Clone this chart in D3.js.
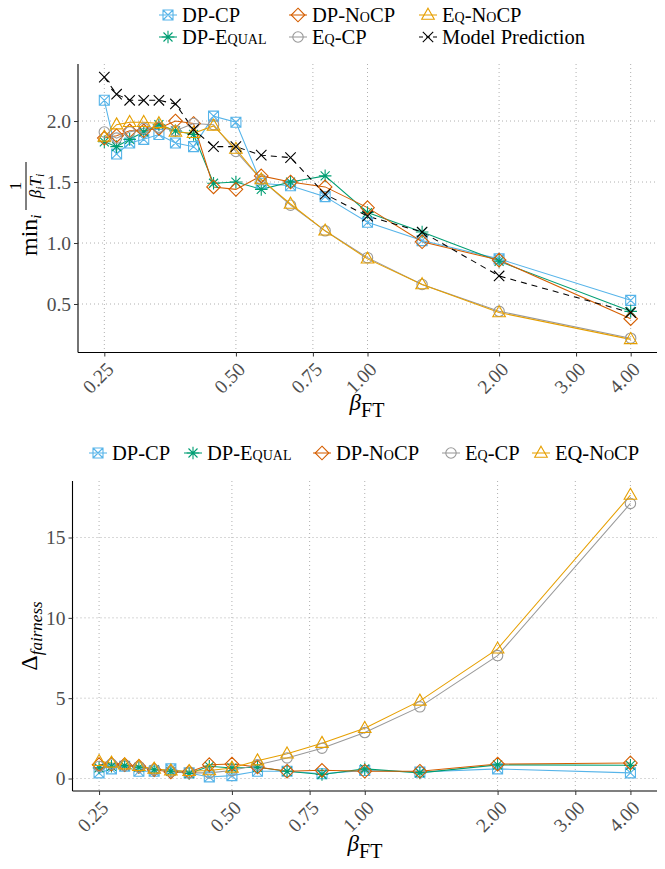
<!DOCTYPE html>
<html><head><meta charset="utf-8">
<script src="https://cdn.jsdelivr.net/npm/d3@7"></script>
<style>
body{margin:0;background:#fff;}
svg, svg text, svg tspan{font-family:'Liberation Serif','Times New Roman','DejaVu Serif',serif !important;}
.sc{font-variant:small-caps;}
</style></head><body>
<svg id="c" width="665" height="869" font-family="'Liberation Serif', 'Times New Roman', serif"></svg>
<script>
// ---------- data ----------
const betaFT = [0.25, 0.2667, 0.2857, 0.3077, 0.3333, 0.3636, 0.4, 0.4444, 0.5, 0.5714, 0.6667, 0.8, 1.0, 1.3333, 2.0, 4.0];
const xTicks = [0.25, 0.5, 0.75, 1, 2, 3, 4];
const xTickLabels = ["0.25", "0.50", "0.75", "1.00", "2.00", "3.00", "4.00"];
const topYTicks = [0.5, 1.0, 1.5, 2.0];
const topYTickLabels = ["0.5", "1.0", "1.5", "2.0"];
const botYTicks = [0, 5, 10, 15];
const botYTickLabels = ["0", "5", "10", "15"];

// top panel: min_i 1/(beta_i T_i)
const topDPCP    = [2.17, 1.73, 1.82, 1.85, 1.89, 1.82, 1.79, 2.04, 1.99, 1.49, 1.47, 1.38, 1.17, 1.02, 0.87, 0.53];
const topDPEqual = [1.83, 1.79, 1.85, 1.91, 1.97, 1.92, 1.89, 1.49, 1.50, 1.44, 1.50, 1.55, 1.25, 1.09, 0.85, 0.44];
const topDPNoCP  = [1.86, 1.88, 1.92, 1.92, 1.94, 2.00, 1.98, 1.46, 1.44, 1.55, 1.50, 1.46, 1.29, 1.01, 0.86, 0.38];
const topEqCP    = [1.91, 1.86, 1.91, 1.94, 1.95, 1.92, 1.98, 1.97, 1.75, 1.52, 1.31, 1.10, 0.88, 0.66, 0.44, 0.22];
const topEqNoCP  = [1.87, 1.97, 1.99, 1.99, 1.98, 1.91, 1.90, 1.96, 1.77, 1.52, 1.32, 1.10, 0.87, 0.66, 0.43, 0.21];
const topModel   = [2.36, 2.22, 2.17, 2.17, 2.17, 2.14, 1.93, 1.79, 1.79, 1.72, 1.70, 1.40, 1.22, 1.09, 0.73, 0.43];

// bottom panel: Delta_fairness
const botDPCP    = [0.35, 0.60, 0.76, 0.45, 0.45, 0.60, 0.35, 0.10, 0.18, 0.45, 0.45, 0.30, 0.50, 0.40, 0.60, 0.35];
const botDPEqual = [0.66, 0.76, 0.80, 0.70, 0.55, 0.45, 0.31, 0.76, 0.66, 0.70, 0.45, 0.25, 0.60, 0.35, 0.85, 0.82];
const botDPNoCP  = [0.86, 0.90, 0.86, 0.76, 0.55, 0.41, 0.41, 0.86, 0.90, 0.72, 0.45, 0.51, 0.45, 0.45, 0.90, 0.97];
const botEqCP    = [0.75, 0.90, 0.80, 0.70, 0.55, 0.45, 0.35, 0.35, 0.50, 0.85, 1.28, 1.89, 2.86, 4.46, 7.65, 17.12];
const botEqNoCP  = [1.07, 0.97, 0.86, 0.76, 0.60, 0.49, 0.45, 0.50, 0.66, 1.11, 1.54, 2.20, 3.13, 4.83, 8.07, 17.64];

const topLabels = ["DP-CP", "DP-E{qual}", "DP-N{o}CP", "E{q}-CP", "E{q}-N{o}CP", "Model Prediction"];
const botLabels = ["DP-CP", "DP-E{qual}", "DP-N{o}CP", "E{q}-CP", "EQ-N{o}CP"];
const colors = ["#56B4E9", "#009E73", "#D55E00", "#999999", "#E69F00", "#000000"];
const shapes = ["squareX", "star", "diamond", "circle", "triangle", "x"];

// ---------- helpers ----------
const FONT = "'Liberation Serif', 'Times New Roman', serif";
const svg = d3.select("#c");
const tickCol = "#4D4D4D";

function shapePath(t) {
  switch (t) {
    case "squareX": return "M-5,-5H5V5H-5Z M-5,-5L5,5 M5,-5L-5,5";
    case "star": return "M0,-6.3V6.3 M-6.3,0H6.3 M-4.5,-4.5L4.5,4.5 M4.5,-4.5L-4.5,4.5";
    case "diamond": return "M0,-6.8L6.8,0L0,6.8L-6.8,0Z";
    case "circle": return "M5.2,0A5.2,5.2 0 1,1 -5.2,0A5.2,5.2 0 1,1 5.2,0Z";
    case "triangle": return "M0,-6.8L6.3,4.2L-6.3,4.2Z";
    case "x": return "M-5.2,-5.2L5.2,5.2M5.2,-5.2L-5.2,5.2";
  }
}

function richText(sel, label) {
  const parts = label.split(/(\{[^}]*\})/).filter(s => s.length);
  parts.forEach(p => {
    if (p[0] === "{") sel.append("tspan").attr("class", "sc").attr("font-variant", "small-caps").text(p.slice(1, -1));
    else sel.append("tspan").text(p);
  });
}

function expand(lo, hi) { const d = (hi - lo) * 0.05; return [lo - d, hi + d]; }

function panel(opts) {
  const {left, right, top, bottom, series, yTicks, yTickLabels} = opts;
  const allY = series.flatMap(s => s.values);
  const x = d3.scaleLog().base(2)
    .domain([0.25 / Math.pow(2, 0.2), 4 * Math.pow(2, 0.2)])
    .range([left, right]);
  const y = d3.scaleLinear().domain(expand(d3.min(allY), d3.max(allY))).range([bottom, top]);
  const g = svg.append("g");

  // grid
  const grid = g.append("g").attr("stroke", "#b0b0b0").attr("stroke-width", 1).attr("stroke-dasharray", "1,3");
  xTicks.forEach(t => grid.append("line").attr("x1", x(t)).attr("x2", x(t)).attr("y1", top).attr("y2", bottom));
  yTicks.forEach(t => grid.append("line").attr("x1", left).attr("x2", right).attr("y1", y(t)).attr("y2", y(t)));

  // axes via d3
  const xAxis = d3.axisBottom(x).tickValues(xTicks).tickFormat((d, i) => xTickLabels[i]).tickSize(4).tickSizeOuter(0);
  const xa = g.append("g").attr("transform", `translate(0,${bottom})`).call(xAxis).attr("font-family", FONT);
  xa.select(".domain").attr("stroke", "#000").attr("stroke-width", 1.1).attr("d", `M${left},0H${right}`);
  xa.selectAll(".tick line").attr("stroke", "#333");
  xa.selectAll(".tick text")
    .attr("font-family", FONT).attr("font-size", 19.5).attr("fill", tickCol)
    .attr("text-anchor", "end").attr("dy", null).attr("y", null)
    .attr("transform", "translate(10,18) rotate(-45)");

  const yAxis = d3.axisLeft(y).tickValues(yTicks).tickFormat((d, i) => yTickLabels[i]).tickSize(4).tickSizeOuter(0);
  const ya = g.append("g").attr("transform", `translate(${left},0)`).call(yAxis).attr("font-family", FONT);
  ya.select(".domain").attr("stroke", "#000").attr("stroke-width", 1.1).attr("d", `M0,${top}V${bottom}`);
  ya.selectAll(".tick line").attr("stroke", "#333");
  ya.selectAll(".tick text")
    .attr("font-family", FONT).attr("font-size", 19.5).attr("fill", tickCol)
    .attr("x", -7);

  // lines
  const line = d3.line().x((d, i) => x(betaFT[i])).y(d => y(d));
  series.forEach(s => {
    g.append("path").attr("d", line(s.values)).attr("fill", "none")
      .attr("stroke", s.color).attr("stroke-width", 1.05)
      .attr("stroke-dasharray", s.dashed ? "6,5" : null);
  });
  // points
  series.forEach(s => {
    g.append("g").selectAll("path").data(s.values).join("path")
      .attr("d", shapePath(s.shape))
      .attr("transform", (d, i) => `translate(${x(betaFT[i])},${y(d)})`)
      .attr("fill", "none").attr("stroke", s.color).attr("stroke-width", 1.1);
  });
  return {x, y};
}

function legendKey(g, s, cx, cy) {
  g.append("line").attr("x1", cx - 9).attr("x2", cx + 9).attr("y1", cy).attr("y2", cy)
    .attr("stroke", s.color).attr("stroke-width", 1.05).attr("stroke-dasharray", s.dashed ? "4,3" : null);
  g.append("path").attr("d", shapePath(s.shape)).attr("transform", `translate(${cx},${cy})`)
    .attr("fill", "none").attr("stroke", s.color).attr("stroke-width", 1.1);
}

function legendItem(s, label, cx, cy) {
  const g = svg.append("g");
  legendKey(g, s, cx, cy);
  const t = g.append("text").attr("x", cx + 14).attr("y", cy).attr("dy", "0.34em")
    .attr("font-family", FONT).attr("font-size", 20.5).attr("fill", "#000");
  richText(t, label);
}

// ---------- series ----------
const topValues = [topDPCP, topDPEqual, topDPNoCP, topEqCP, topEqNoCP, topModel];
const botValues = [botDPCP, botDPEqual, botDPNoCP, botEqCP, botEqNoCP];
const topSeries = topValues.map((v, i) => ({values: v, color: colors[i], shape: shapes[i], dashed: i === 5}));
const botSeries = botValues.map((v, i) => ({values: v, color: colors[i], shape: shapes[i], dashed: false}));

panel({left: 78, right: 657, top: 64, bottom: 352.5, series: topSeries, yTicks: topYTicks, yTickLabels: topYTickLabels});
panel({left: 72.5, right: 657, top: 481, bottom: 791, series: botSeries, yTicks: botYTicks, yTickLabels: botYTickLabels});

// ---------- legends ----------
const topColX = [168, 298, 428], topRowY = [15, 37];
topSeries.forEach((s, i) => legendItem(s, topLabels[i], topColX[Math.floor(i / 2)], topRowY[i % 2]));
const botKeyX = [98, 193, 322, 451, 541];
botSeries.forEach((s, i) => legendItem(s, botLabels[i], botKeyX[i], 453));

// ---------- axis titles ----------
function betaTitle(cx, base) {
  const t = svg.append("text").attr("x", cx).attr("y", base).attr("text-anchor", "middle")
    .attr("font-family", FONT).attr("fill", "#000");
  t.append("tspan").attr("font-style", "italic").attr("font-size", 23).text("β");
  t.append("tspan").attr("font-size", 20).attr("dy", 7).text("FT");
}
betaTitle(367, 410);
betaTitle(365, 851);

// top y title
{
  const g = svg.append("g").attr("transform", "translate(0,206) rotate(-90)").attr("font-family", FONT);
  const m = g.append("text").attr("x", -50).attr("y", 37).attr("font-size", 24).attr("fill", "#000");
  m.append("tspan").text("min");
  m.append("tspan").attr("font-size", 15).attr("font-style", "italic").attr("dy", 4).text("i");
  g.append("line").attr("x1", -4).attr("x2", 44).attr("y1", 26).attr("y2", 26).attr("stroke", "#000").attr("stroke-width", 1);
  g.append("text").attr("x", 20).attr("y", 21).attr("text-anchor", "middle").attr("font-size", 17).text("1");
  const d = g.append("text").attr("x", 20).attr("y", 41).attr("text-anchor", "middle").attr("font-size", 17).attr("font-style", "italic");
  d.append("tspan").text("β");
  d.append("tspan").attr("font-size", 12).attr("dy", 3).text("i");
  d.append("tspan").attr("dy", -3).text("T");
  d.append("tspan").attr("font-size", 12).attr("dy", 3).text("i");
}
// bottom y title
{
  const g = svg.append("g").attr("transform", "translate(0,636) rotate(-90)").attr("font-family", FONT);
  const t = g.append("text").attr("x", 0).attr("y", 37).attr("text-anchor", "middle").attr("fill", "#000");
  t.append("tspan").attr("font-size", 24).text("Δ");
  t.append("tspan").attr("font-size", 17).attr("font-style", "italic").attr("dy", 5).text("fairness");
}
</script>
</body></html>
